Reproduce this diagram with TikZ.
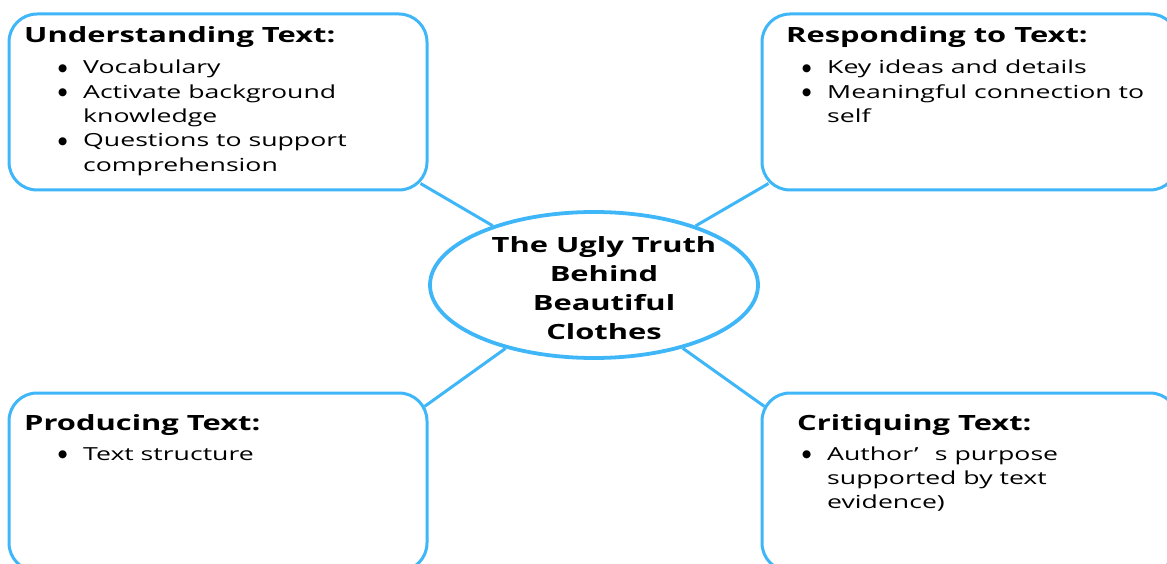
\documentclass[tikz,border=0pt]{standalone}
\usepackage{fontspec}
\setmainfont{Open Sans}[UprightFeatures={FakeStretch=1.48}, BoldFeatures={FakeStretch=1.47}]
\newfontfamily\djf{DejaVu Sans}
\usetikzlibrary{shapes.geometric,calc}
\definecolor{lb}{RGB}{62,182,247}
\tikzset{
  box/.style={draw=lb, line width=3pt, rounded corners=28pt, rectangle, inner sep=0pt},
  ell/.style={draw=lb, line width=3.8pt, ellipse, inner sep=0pt, minimum width=328pt, minimum height=146pt},
  conn/.style={draw=lb, line width=3pt},
  ttl/.style={anchor=base west, inner sep=0pt, font=\fontsize{21}{25}\selectfont\bfseries},
  lst/.style={anchor=base west, inner sep=0pt, font=\fontsize{18}{24.3}\selectfont},
  ctr/.style={anchor=base, inner sep=0pt, font=\fontsize{21}{29}\selectfont\bfseries}
}
\newcommand{\bul}{\makebox[25pt][l]{\raisebox{2.3pt}{\djf\fontsize{10.5}{10}\selectfont ●}}}
\newcommand{\nob}{\hspace*{25pt}}
\begin{document}
\begin{tikzpicture}[x=1pt,y=-1pt]
\clip (0,0) rectangle (1167,564);
\node[box, minimum width=418pt, minimum height=176pt] (tl) at (218,102) {};
\node[box, minimum width=416pt, minimum height=176pt] (tr) at (970,102) {};
\node[box, minimum width=418pt, minimum height=178pt] (bl) at (218,482) {};
\node[box, minimum width=416pt, minimum height=178pt] (br) at (970,482) {};
\node[ell] (c) at (594,285) {};
\coordinate (tlk) at ($(tl.south east)+(-8,-8)$);
\coordinate (trk) at ($(tr.south west)+(8,-8)$);
\coordinate (blk) at ($(bl.north east)+(-4,15)$);
\coordinate (brk) at ($(br.north west)+(4,15)$);
\draw[conn] (tlk) -- (c);
\draw[conn] (trk) -- (c);
\draw[conn] (blk) -- (c);
\draw[conn] (brk) -- (c);
\node[ctr] (ct) at (604,252) {\begin{tabular}[t]{@{}c@{}}The Ugly Truth\\Behind\\Beautiful\\Clothes\end{tabular}};
\node[ttl] (t1) at (24,43) {Understanding Text:};
\node[lst] (l1) at (58,74) {\begin{tabular}[t]{@{}l@{}}\bul Vocabulary\\\bul Activate background\\\nob knowledge\\\bul Questions to support\\\nob comprehension\end{tabular}};
\node[ttl] (t2) at (786,43) {Responding to Text:};
\node[lst] (l2) at (802,74) {\begin{tabular}[t]{@{}l@{}}\bul Key ideas and details\\\bul Meaningful connection to\\\nob self\end{tabular}};
\node[ttl] (t3) at (24,430) {Producing Text:};
\node[lst] (l3) at (58,460) {\begin{tabular}[t]{@{}l@{}}\bul Text structure\end{tabular}};
\node[ttl] (t4) at (797,430) {Critiquing Text:};
\node[lst] (l4) at (802,460) {\begin{tabular}[t]{@{}l@{}}\bul Author’\hspace{0.9em}s purpose\\\nob supported by text\\\nob evidence)\end{tabular}};
\end{tikzpicture}
\end{document}
